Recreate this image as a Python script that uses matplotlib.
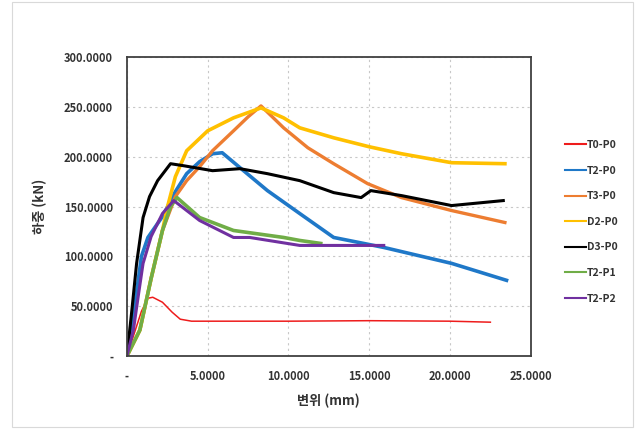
import matplotlib.pyplot as plt
from matplotlib.patches import Rectangle
from matplotlib.ticker import FuncFormatter

plt.rcParams['font.family'] = ['Noto Sans CJK KR', 'DejaVu Sans']

# displacement (mm) / load (kN)
t0p0_x = [0.0, 0.4, 0.9, 1.3, 1.6, 2.2, 2.8, 3.3, 4.0, 6.0, 10.0, 15.0, 20.0, 22.5]
t0p0_y = [0.0, 20.0, 45.0, 58.0, 59.0, 54.0, 44.0, 37.0, 35.0, 35.0, 35.0, 35.5, 35.0, 34.0]

t2p0_x = [0.0, 0.4, 0.9, 1.3, 2.2, 3.0, 3.7, 4.5, 5.3, 5.9, 7.0, 8.7, 10.7, 12.8, 15.9, 20.1, 23.5]
t2p0_y = [0.0, 40.0, 100.0, 119.0, 140.0, 165.0, 183.0, 195.0, 203.0, 204.0, 189.0, 166.0, 143.0, 119.0, 109.0, 93.0, 76.0]

t3p0_x = [0.0, 0.8, 1.5, 2.2, 3.0, 3.7, 4.5, 5.3, 6.6, 7.5, 8.3, 9.7, 11.2, 12.8, 14.9, 17.0, 20.1, 23.4]
t3p0_y = [0.0, 26.0, 78.0, 126.0, 160.0, 176.0, 190.0, 206.0, 226.0, 240.0, 251.0, 229.0, 209.0, 193.0, 173.0, 159.0, 146.0, 134.0]

d2p0_x = [0.0, 0.8, 1.5, 2.2, 2.5, 3.0, 3.7, 5.0, 6.6, 8.3, 9.7, 10.7, 12.8, 15.0, 17.0, 20.1, 23.4]
d2p0_y = [0.0, 26.0, 78.0, 126.0, 149.0, 180.0, 206.0, 226.0, 239.0, 249.0, 239.0, 229.0, 219.0, 210.0, 203.0, 194.0, 193.0]

d3p0_x = [0.0, 0.3, 0.6, 1.0, 1.4, 1.9, 2.7, 3.5, 5.3, 7.0, 8.7, 10.7, 12.8, 14.5, 15.1, 17.0, 20.1, 23.3]
d3p0_y = [0.0, 45.0, 93.0, 139.0, 160.0, 176.0, 193.0, 191.0, 186.0, 188.0, 183.0, 176.0, 164.0, 159.0, 166.0, 161.0, 151.0, 156.0]

t2p1_x = [0.0, 0.8, 1.5, 2.2, 2.7, 3.1, 4.5, 6.6, 9.7, 10.7, 12.0]
t2p1_y = [0.0, 26.0, 78.0, 126.0, 150.0, 159.0, 139.0, 126.0, 119.0, 116.0, 113.0]

t2p2_x = [0.0, 0.4, 0.7, 1.0, 1.5, 2.2, 2.9, 4.5, 6.6, 7.6, 10.7, 12.8, 15.9]
t2p2_y = [0.0, 26.0, 60.0, 93.0, 120.0, 143.0, 156.0, 136.0, 119.0, 119.0, 111.0, 111.0, 111.0]

series = [
    ("T0-P0", t0p0_x, t0p0_y, "#ee1c1c", 1.1),
    ("T2-P0", t2p0_x, t2p0_y, "#1f78c8", 2.6),
    ("T3-P0", t3p0_x, t3p0_y, "#ed7d31", 2.4),
    ("D2-P0", d2p0_x, d2p0_y, "#ffc000", 2.6),
    ("D3-P0", d3p0_x, d3p0_y, "#000000", 2.2),
    ("T2-P1", t2p1_x, t2p1_y, "#70ad47", 2.6),
    ("T2-P2", t2p2_x, t2p2_y, "#7030a0", 2.2),
]

fig = plt.figure(figsize=(6.41, 4.29), dpi=100)
fig.patches.append(Rectangle((0.018, 0.005), 0.97, 0.99, transform=fig.transFigure,
                             fill=False, edgecolor="#d9d9d9", linewidth=0.8))
ax = fig.add_axes([0.198, 0.170, 0.630, 0.697])

for name, xs, ys, col, lw in series:
    ax.plot(xs, ys, color=col, linewidth=lw, label=name, solid_joinstyle="round")

ax.set_xlim(0, 25)
ax.set_ylim(0, 300)
ax.set_xticks([0, 5, 10, 15, 20, 25])
ax.set_yticks([0, 50, 100, 150, 200, 250, 300])

fmt = FuncFormatter(lambda v, p: "-" if v == 0 else f"{v:.4f}")
ax.xaxis.set_major_formatter(fmt)
ax.yaxis.set_major_formatter(fmt)
ax.tick_params(length=0, labelsize=8, pad=10, colors="#333333")
for lab in ax.get_xticklabels() + ax.get_yticklabels():
    lab.set_fontweight("bold")

ax.grid(True, linestyle=(0, (2, 3)), color="#c8c8c8", linewidth=0.8)
ax.set_axisbelow(True)
for sp in ax.spines.values():
    sp.set_color("#404040")
    sp.set_linewidth(1.3)

ax.set_xlabel("변위 (mm)", fontsize=9.5, fontweight="bold", color="#333333", labelpad=8)
ax.set_ylabel("하중 (kN)", fontsize=9.5, fontweight="bold", color="#333333", labelpad=12)

leg = fig.legend(loc="center left", bbox_to_anchor=(0.867, 0.483), frameon=False,
                 fontsize=7.5, handlelength=2.0, handletextpad=0.1, labelspacing=1.5)
for t in leg.get_texts():
    t.set_fontweight("bold")
    t.set_color("#333333")
for h in leg.get_lines():
    h.set_linewidth(1.5)

fig.savefig("out.png", dpi=100)
